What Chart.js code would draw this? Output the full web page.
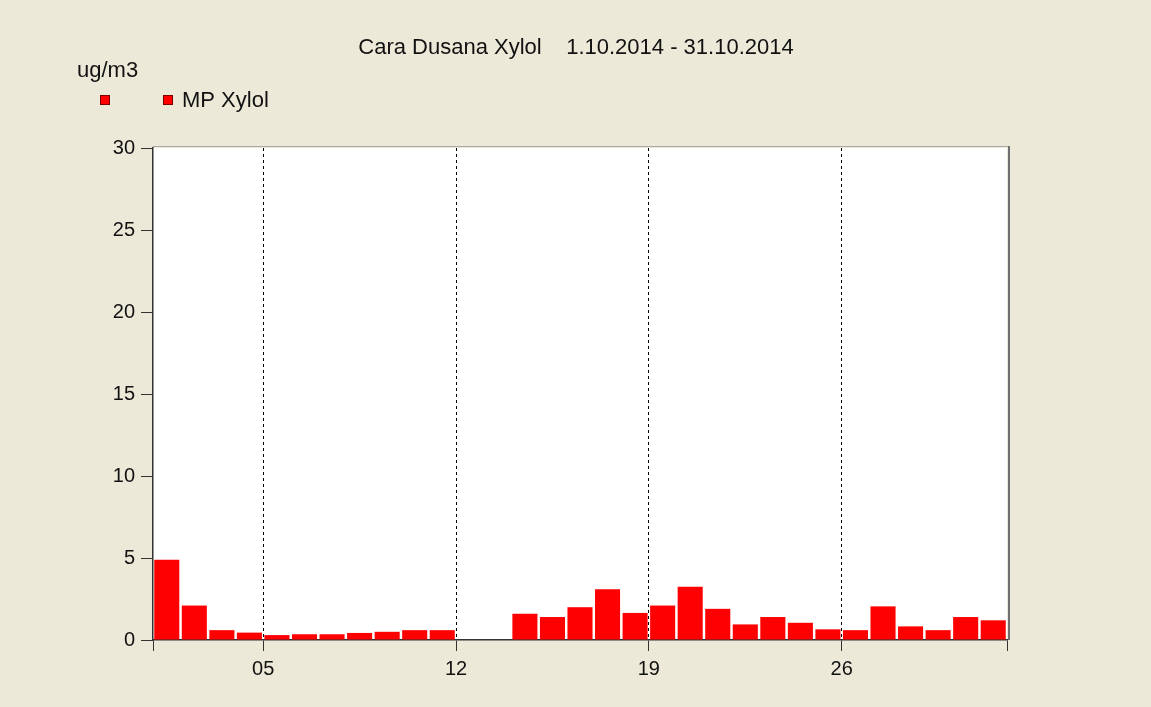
<!DOCTYPE html>
<html lang="en">
<head>
    <meta charset="UTF-8">
    <title>Cara Dusana Xylol</title>
    <script src="https://cdn.jsdelivr.net/npm/chart.js"></script>
    <style>
        body { margin: 0; background: #ECE9D8; }
        #wrap { width: 1151px; height: 707px; position: relative; }
    </style>
</head>
<body>
    <div id="wrap"><canvas id="xylolChart"></canvas></div>

    <script>
        // daily values for October 2014 (12th and 13th missing)
        const days = [1, 2, 3, 4, 5, 6, 7, 8, 9, 10, 11, 12, 13, 14, 15, 16,
                      17, 18, 19, 20, 21, 22, 23, 24, 25, 26, 27, 28, 29, 30, 31];
        const mpXylol = [4.9, 2.1, 0.6, 0.45, 0.3, 0.35, 0.35, 0.43, 0.5, 0.6, 0.6, null, null, 1.6, 1.4, 2.0,
                         3.1, 1.65, 2.1, 3.25, 1.9, 0.95, 1.4, 1.05, 0.65, 0.6, 2.05, 0.83, 0.6, 1.4, 1.2];
        const xTickPos = [0, 4, 11, 18, 25, 31];
        const xTickLabels = ['', '05', '12', '19', '26', ''];

        const titleText = 'Cara Dusana Xylol    1.10.2014 - 31.10.2014';
        const unitText = 'ug/m3';
        const seriesName = 'MP Xylol';

        const FONT = '"Liberation Sans", Arial, sans-serif';

        // white plot area + frame + header texts
        const decor = {
            id: 'decor',
            beforeDraw(chart) {
                const { ctx, chartArea: a } = chart;
                ctx.save();
                ctx.fillStyle = '#ffffff';
                ctx.fillRect(a.left, a.top, a.right - a.left, a.bottom - a.top);
                ctx.restore();
            },
            afterDraw(chart) {
                const { ctx, chartArea: a } = chart;
                ctx.save();
                // frame top / right
                ctx.strokeStyle = '#a8a8a8';
                ctx.lineWidth = 1;
                ctx.beginPath();
                ctx.moveTo(a.left, a.top - 1.5);
                ctx.lineTo(a.right + 2, a.top - 1.5);
                ctx.stroke();
                ctx.strokeStyle = '#707070';
                ctx.lineWidth = 2;
                ctx.beginPath();
                ctx.moveTo(a.right + 2, a.top - 2);
                ctx.lineTo(a.right + 2, a.bottom);
                ctx.stroke();

                ctx.fillStyle = '#111';
                ctx.font = '22px ' + FONT;
                ctx.textBaseline = 'alphabetic';
                ctx.textAlign = 'center';
                ctx.fillText(titleText, 576, 54);
                ctx.textAlign = 'left';
                ctx.fillText(unitText, 77, 77);
                ctx.fillText(seriesName, 182, 107);

                // legend boxes
                const color = chart.data.datasets[0].backgroundColor;
                [100, 163].forEach(x => {
                    ctx.fillStyle = color;
                    ctx.fillRect(x, 95, 10, 10);
                    ctx.strokeStyle = '#7a0000';
                    ctx.lineWidth = 1;
                    ctx.strokeRect(x + 0.5, 95.5, 9, 9);
                });
                ctx.restore();
            }
        };

        new Chart(document.getElementById('xylolChart'), {
            type: 'bar',
            data: {
                datasets: [{
                    label: seriesName,
                    data: days.map((d, i) => ({ x: d - 0.5, y: mpXylol[i] })),
                    backgroundColor: '#ff0000',
                    borderWidth: 0,
                    barPercentage: 1,
                    categoryPercentage: 0.91
                }]
            },
            options: {
                responsive: true,
                maintainAspectRatio: false,
                animation: false,
                layout: { padding: { left: 0, top: 148, right: 144, bottom: 0 } },
                plugins: {
                    legend: { display: false },
                    title: { display: false },
                    tooltip: { enabled: false }
                },
                scales: {
                    x: {
                        type: 'linear',
                        min: 0,
                        max: 31,
                        offset: false,
                        afterBuildTicks: scale => {
                            scale.ticks = xTickPos.map(v => ({ value: v }));
                        },
                        afterFit: scale => { scale.height = 67; },
                        ticks: {
                            autoSkip: false,
                            maxRotation: 0,
                            padding: 6,
                            color: '#111',
                            font: { family: FONT, size: 20 },
                            callback: value => xTickLabels[xTickPos.indexOf(value)]
                        },
                        grid: {
                            offset: false,
                            color: ctx => (ctx.tick && ctx.tick.value > 0 && ctx.tick.value < 31) ? '#000' : 'rgba(0,0,0,0)',
                            tickBorderDash: [],
                            tickColor: '#333',
                            tickLength: 11
                        },
                        // in v4 border.dash styles the grid lines
                        border: { display: true, color: '#333', width: 1.5, dash: [3, 3] }
                    },
                    y: {
                        min: 0,
                        max: 30,
                        afterFit: scale => { scale.width = 153; },
                        ticks: {
                            stepSize: 5,
                            padding: 6,
                            color: '#111',
                            font: { family: FONT, size: 20 }
                        },
                        grid: {
                            drawOnChartArea: false,
                            tickColor: '#333',
                            tickLength: 12
                        },
                        border: { display: true, color: '#333', width: 1.5 }
                    }
                }
            },
            plugins: [decor]
        });
    </script>
</body>
</html>
